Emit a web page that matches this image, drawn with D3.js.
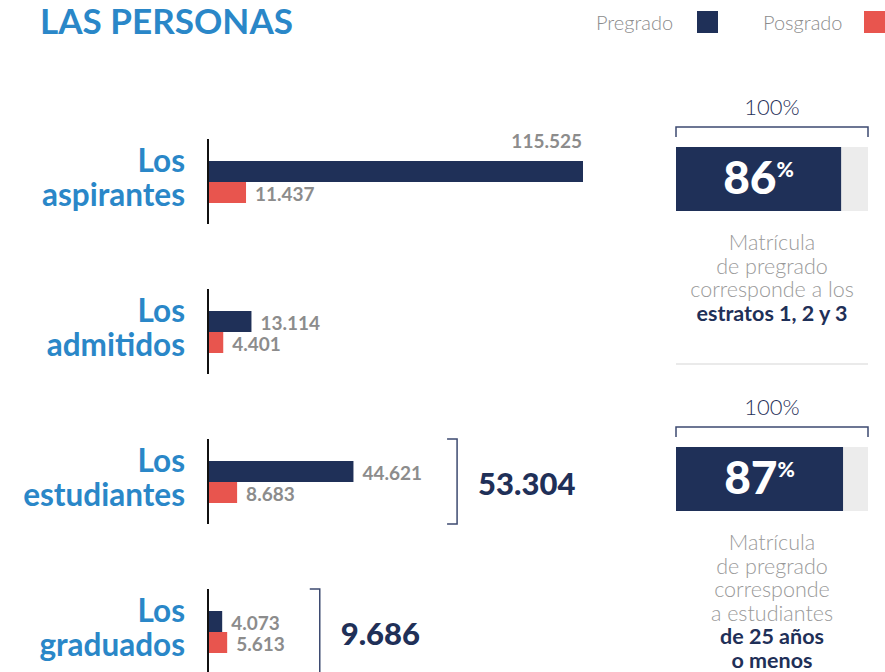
<!DOCTYPE html>
<html>
 <head>
    <meta charset="utf-8">
    <script src="https://d3js.org/d3.v7.min.js"></script>
    <style>
      body { margin: 0; background: #fff; }
      text { font-family: Lato, "Open Sans", sans-serif; }
    </style>
 </head>
 <body>
    <div id="my_dataviz"></div>
<script>

// data
var categories = ["aspirantes", "admitidos", "estudiantes", "graduados"];
var pregrado = [115525, 13114, 44621, 4073];
var posgrado = [11437, 4401, 8683, 5613];
var totals = [null, null, 53304, 9686];

var shares = [86, 87];
var shareLines = [
  [["Matrícula", false], ["de pregrado", false], ["corresponde a los", false], ["estratos 1, 2 y 3", true]],
  [["Matrícula", false], ["de pregrado", false], ["corresponde", false], ["a estudiantes", false], ["de 25 años", true], ["o menos", true]]
];

var navy = "#1f3058", red = "#e8554e", blue = "#2a87c8", grey = "#8c8c8c";

var fmt = function (v) { return d3.format(",")(v).replace(/,/g, "."); };

var width = 885, height = 672;

var svg = d3.select("#my_dataviz")
  .append("svg")
  .attr("width", width)
  .attr("height", height);

// title
svg.append("text")
  .attr("x", 40).attr("y", 34)
  .attr("textLength", 253)
  .attr("lengthAdjust", "spacingAndGlyphs")
  .style("font-weight", "bold")
  .style("font-size", "35px")
  .style("fill", blue)
  .text("LAS PERSONAS");

// legend
var legend = svg.append("g");
[["Pregrado", navy, 596], ["Posgrado", red, 763]].forEach(function (d) {
  legend.append("text")
    .attr("x", d[2]).attr("y", 30)
    .style("font-size", "20px")
    .style("font-weight", 300)
    .style("fill", grey)
    .text(d[0]);
  legend.append("rect")
    .attr("x", d[2] + 101).attr("y", 11)
    .attr("width", 21).attr("height", 22)
    .attr("fill", d[1]);
});

// scales
var x = d3.scaleLinear()
  .domain([0, d3.max(pregrado)])
  .range([209, 583]);

var y = d3.scaleBand()
  .domain(categories)
  .range([139, 739]);

var barH = 21;

categories.forEach(function (c, i) {
  var g = svg.append("g").attr("transform", "translate(0," + y(c) + ")");

  // category label (two lines in one text)
  var lab = g.append("text")
    .attr("y", 33)
    .style("text-anchor", "end")
    .style("font-size", "31.5px").style("font-weight", "bold").style("fill", blue);
  lab.append("tspan").attr("x", 185).text("Los");
  lab.append("tspan").attr("x", 185).attr("dy", 34).text(c);

  // bars
  var rows = [[pregrado[i], navy, 22], [posgrado[i], red, 43]];
  var labelEnd = 0;
  rows.forEach(function (r) {
    g.append("rect")
      .attr("x", 208).attr("y", r[2])
      .attr("width", x(r[0]) - 208).attr("height", barH)
      .attr("fill", r[1]);

    var above = x(r[0]) > 500;
    var t = g.append("text")
      .attr("x", above ? x(r[0]) - 1 : x(r[0]) + 9)
      .attr("y", above ? r[2] - 13 : r[2] + barH / 2 + 8)
      .style("text-anchor", above ? "end" : "start")
      .style("font-size", "19px").style("font-weight", "bold").style("fill", grey)
      .text(fmt(r[0]));
    if (!above) labelEnd = Math.max(labelEnd, x(r[0]) + 9 + t.node().getComputedTextLength());
  });

  // axis line
  g.append("line")
    .attr("x1", 208).attr("x2", 208)
    .attr("y1", 0).attr("y2", 85)
    .attr("stroke", "#111").attr("stroke-width", 2);

  // bracket + total
  if (totals[i] != null) {
    var bx = labelEnd + 35;
    g.append("path")
      .attr("d", "M" + (bx - 10) + ",0 H" + bx + " V85 H" + (bx - 10))
      .attr("fill", "none").attr("stroke", "#3d4a70").attr("stroke-width", 1.5);
    g.append("text")
      .attr("x", bx + 21).attr("y", 56)
      .style("font-size", "31px").style("font-weight", 900).style("fill", navy)
      .text(fmt(totals[i]));
  }
});

// right panels
var px = d3.scaleLinear().domain([0, 100]).range([676, 868]);
var panelY = d3.scaleBand().domain(d3.range(shares.length)).range([97, 697]);

shares.forEach(function (s, i) {
  var g = svg.append("g").attr("transform", "translate(0," + panelY(i) + ")");
  var cx = (px(0) + px(100)) / 2;

  g.append("text")
    .attr("x", cx).attr("y", 18)
    .style("text-anchor", "middle")
    .style("font-size", "22px").style("font-weight", 300).style("fill", navy)
    .text("100%");

  g.append("path")
    .attr("d", "M" + px(0) + ",40 V30 H" + px(100) + " V40")
    .attr("fill", "none").attr("stroke", "#3d4a70").attr("stroke-width", 1.5);

  g.append("rect")
    .attr("x", px(0)).attr("y", 50)
    .attr("width", px(100) - px(0)).attr("height", 64)
    .attr("fill", "#ececec");
  g.append("rect")
    .attr("x", px(0)).attr("y", 50)
    .attr("width", px(s) - px(0)).attr("height", 64)
    .attr("fill", navy);

  var big = g.append("text")
    .attr("x", (px(0) + px(s)) / 2).attr("y", 97)
    .style("text-anchor", "middle")
    .style("fill", "#fff").style("font-weight", 900);
  big.append("tspan").style("font-size", "46px").text(s);
  big.append("tspan").style("font-size", "21px").attr("dy", -17).text("%");

  shareLines[i].forEach(function (l, j) {
    g.append("text")
      .attr("x", cx).attr("y", 153 + j * 23.6)
      .style("text-anchor", "middle")
      .style("font-size", "21.5px")
      .style("font-weight", l[1] ? "bold" : 300)
      .style("fill", l[1] ? navy : "#9a9a9a")
      .text(l[0]);
  });
});

// separator between panels
svg.append("line")
  .attr("x1", px(0)).attr("x2", px(100))
  .attr("y1", 364).attr("y2", 364)
  .attr("stroke", "#d5d5d5").attr("stroke-width", 1);

</script>
 </body>
</html>
